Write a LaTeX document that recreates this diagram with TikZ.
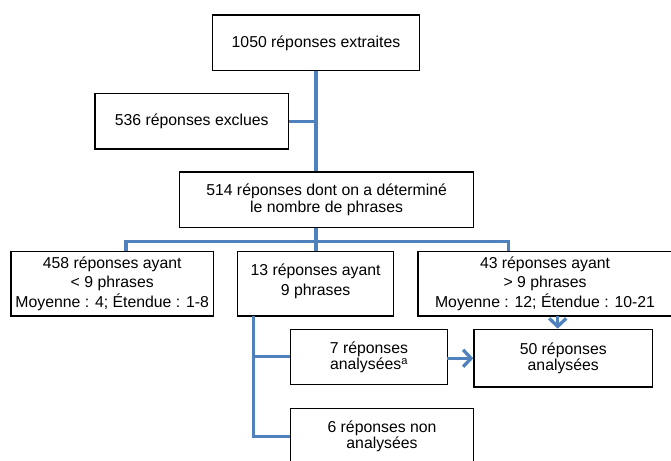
\documentclass[tikz,border=0pt]{standalone}
\usepackage{fontspec}
\setmainfont{Liberation Sans}
\usetikzlibrary{arrows.meta}
\definecolor{linkblue}{HTML}{4F81BD}
\tikzset{
  bx/.style={draw=black, line width=1.3pt, fill=white, align=center, inner sep=0pt,
    font=\fontsize{15.8}{16.2}\selectfont},
  bxrow/.style={bx, font=\fontsize{15.8}{19.7}\selectfont, minimum height=64.5pt},
  link/.style={draw=linkblue, line width=3.3pt},
  arr/.style={link, -{Straight Barb[length=8pt,width=17pt,line width=3.3pt]}}
}
\begin{document}
\begin{tikzpicture}[x=1pt,y=-1pt]
\useasboundingbox (0,0) rectangle (671,460);
\clip (0,0) rectangle (671,460);
% boxes
\node[bx, minimum width=206.6pt, minimum height=55.7pt] (b1) at (316,42.85) {1050 réponses extraites};
\node[bx, minimum width=193.5pt, minimum height=55.7pt] (b2) at (191.75,121.15) {536 réponses exclues};
\node[bx, minimum width=294.2pt, minimum height=55.7pt] (b3) at (326.6,199.85) {514 réponses dont on a déterminé\\le nombre de phrases};
\node[bxrow, minimum width=202.5pt] (b4) at (112.25,283.75) {458 réponses ayant\\< 9 phrases\\Moyenne : 4; Étendue : 1-8};
\node[bxrow, minimum width=156.2pt] (b5) at (315.6,283.75) {};
\node[align=center, inner sep=0pt, font=\fontsize{15.8}{19.7}\selectfont] (t5) at (315.6,281.5) {13 réponses ayant\\9 phrases};
\node[bxrow, minimum width=254pt] (b6) at (545,283.75) {43 réponses ayant\\> 9 phrases\\Moyenne : 12; Étendue : 10-21};
\node[bx, minimum width=156.6pt, minimum height=55.4pt] (b7) at (369,357) {7 réponses\\analysées\textsuperscript{a}};
\node[bx, minimum width=178.5pt, minimum height=57.7pt] (b9) at (563.25,358.15) {50 réponses\\analysées};
\node[bx, minimum width=182.6pt, minimum height=55.7pt] (b8) at (382,436.15) {6 réponses non\\analysées};
% coordinates
\coordinate (top) at (316,70.7);
\coordinate (split) at (316,241.7);
\coordinate (sl) at (126,241.7);
\coordinate (sr) at (508.3,241.7);
\coordinate (v5) at (253.3,316);
\coordinate (a6) at (557.7,316);
\coordinate (a7) at (447.3,358.3);
% connectors
\draw[link] (top) -- (top |- b3.north);
\draw[link] (b2.east) -- (b2.east -| top);
\draw[link] (top |- b3.south) -- (split);
\draw[link, line join=miter] (sl |- b4.north) -- (sl) -- (sr) -- (sr |- b6.north);
\draw[link] (split) -- (split |- b5.north);
\draw[link, line join=miter] (v5) -- (v5 |- b8.west) -- (b8.west);
\draw[link] (v5 |- 0,356.7) -- (b7.west |- 0,356.7);
\draw[arr] (a7) -- (a7 -| b9.west);
\draw[arr] (a6) -- (a6 |- b9.north);
\end{tikzpicture}
\end{document}
